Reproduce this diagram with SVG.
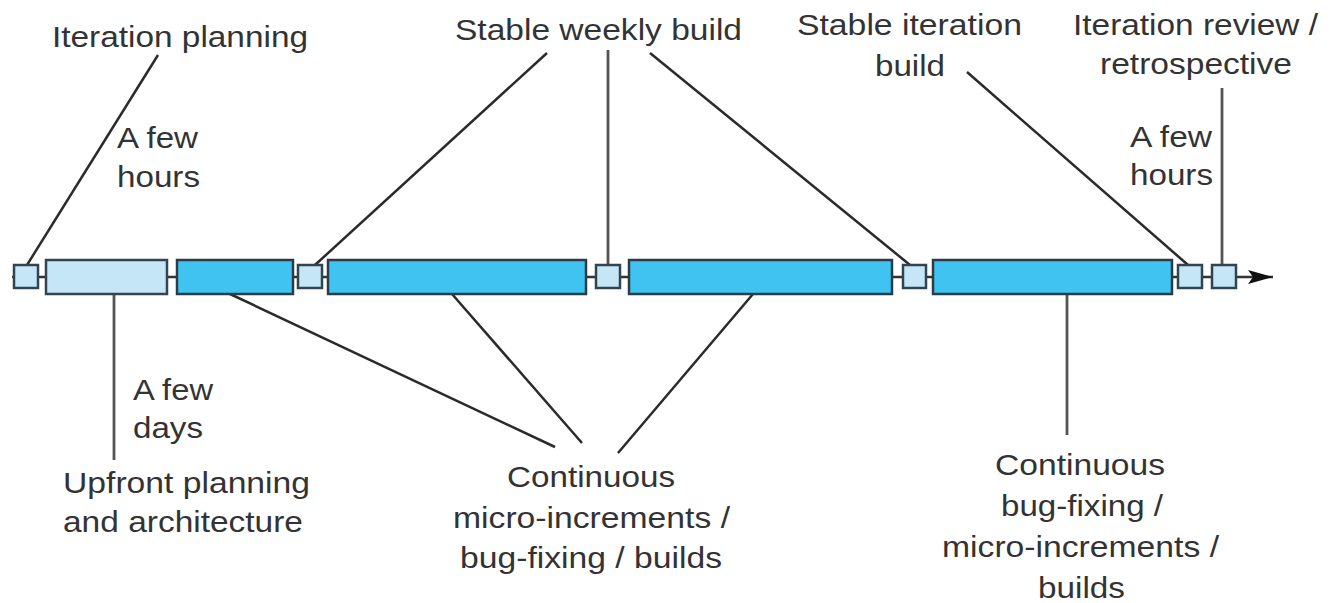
<svg xmlns="http://www.w3.org/2000/svg" width="1335" height="603" viewBox="0 0 1335 603">
<defs>
<style>
text{font-family:"Liberation Sans",Arial,sans-serif;font-size:30px;fill:#333;}
.sm{fill:#c4e6f7;stroke:#33444e;stroke-width:2.5;}
.lt{fill:#c4e6f7;stroke:#33444e;stroke-width:2.5;}
.bl{fill:#40c3f0;stroke:#2b3c47;stroke-width:2.5;}
.c{stroke:#2a2a2a;stroke-width:2.5;fill:none;}
.v{stroke:#555;stroke-width:2.8;fill:none;}
.tl{stroke:#333;stroke-width:2.5;fill:none;}
</style>
<marker id="arr" markerWidth="26" markerHeight="16" refX="25" refY="8" orient="auto" markerUnits="userSpaceOnUse">
<path d="M0,1 L25,8 L0,15 L5,8 Z" fill="#111"/>
</marker>
</defs>
<rect width="1335" height="603" fill="#fff"/>

<g id="timeline">
<line class="tl" x1="12" y1="277" x2="1273" y2="277" marker-end="url(#arr)"/>
</g>

<g id="connectors">
<line class="c" x1="158" y1="55" x2="27" y2="265"/>
<line class="c" x1="547" y1="53" x2="315" y2="265"/>
<line class="v" x1="608" y1="50" x2="608" y2="265"/>
<line class="c" x1="650" y1="53" x2="910" y2="265"/>
<line class="c" x1="967" y1="72" x2="1188" y2="265"/>
<line class="v" x1="1222" y1="88" x2="1222" y2="265"/>
<line class="v" x1="114" y1="294" x2="114" y2="460"/>
<line class="c" x1="230" y1="294" x2="555" y2="447"/>
<line class="c" x1="452" y1="294" x2="582" y2="443"/>
<line class="c" x1="753" y1="294" x2="618" y2="453"/>
<line class="v" x1="1067" y1="294" x2="1067" y2="435"/>
</g>

<g id="box-iteration-planning"><rect class="sm" x="14" y="265" width="24" height="23"/></g>
<g id="box-upfront"><rect class="lt" x="46" y="260" width="121" height="34"/></g>
<g id="box-micro-1"><rect class="bl" x="177" y="260" width="116" height="34"/></g>
<g id="box-weekly-1"><rect class="sm" x="298" y="265" width="24" height="23"/></g>
<g id="box-micro-2"><rect class="bl" x="328" y="260" width="258" height="34"/></g>
<g id="box-weekly-2"><rect class="sm" x="596" y="265" width="24" height="23"/></g>
<g id="box-micro-3"><rect class="bl" x="629" y="260" width="263" height="34"/></g>
<g id="box-weekly-3"><rect class="sm" x="903" y="265" width="23" height="23"/></g>
<g id="box-bugfix"><rect class="bl" x="933" y="260" width="239" height="34"/></g>
<g id="box-iteration-build"><rect class="sm" x="1178" y="265" width="24" height="23"/></g>
<g id="box-review"><rect class="sm" x="1212" y="265" width="24" height="23"/></g>

<g id="label-iteration-planning">
<text x="52" y="47" textLength="256" lengthAdjust="spacingAndGlyphs">Iteration planning</text>
<text x="117" y="148" textLength="81" lengthAdjust="spacingAndGlyphs">A few</text>
<text x="117" y="187" textLength="83" lengthAdjust="spacingAndGlyphs">hours</text>
</g>
<g id="label-stable-weekly">
<text x="455" y="40" textLength="287" lengthAdjust="spacingAndGlyphs">Stable weekly build</text>
</g>
<g id="label-stable-iteration">
<text x="797" y="35" textLength="225" lengthAdjust="spacingAndGlyphs">Stable iteration</text>
<text x="875" y="76" textLength="70" lengthAdjust="spacingAndGlyphs">build</text>
</g>
<g id="label-review">
<text x="1073" y="35" textLength="245" lengthAdjust="spacingAndGlyphs">Iteration review /</text>
<text x="1100" y="74" textLength="192" lengthAdjust="spacingAndGlyphs">retrospective</text>
<text x="1130" y="147" textLength="82" lengthAdjust="spacingAndGlyphs">A few</text>
<text x="1130" y="185" textLength="83" lengthAdjust="spacingAndGlyphs">hours</text>
</g>
<g id="label-upfront">
<text x="133" y="400" textLength="80" lengthAdjust="spacingAndGlyphs">A few</text>
<text x="133" y="438" textLength="70" lengthAdjust="spacingAndGlyphs">days</text>
<text x="63" y="493" textLength="247" lengthAdjust="spacingAndGlyphs">Upfront planning</text>
<text x="63" y="532" textLength="240" lengthAdjust="spacingAndGlyphs">and architecture</text>
</g>
<g id="label-micro">
<text x="507" y="487" textLength="168" lengthAdjust="spacingAndGlyphs">Continuous</text>
<text x="453" y="528" textLength="277" lengthAdjust="spacingAndGlyphs">micro-increments /</text>
<text x="460" y="568" textLength="262" lengthAdjust="spacingAndGlyphs">bug-fixing / builds</text>
</g>
<g id="label-bugfix">
<text x="995" y="475" textLength="170" lengthAdjust="spacingAndGlyphs">Continuous</text>
<text x="1001" y="516" textLength="162" lengthAdjust="spacingAndGlyphs">bug-fixing /</text>
<text x="942" y="557" textLength="277" lengthAdjust="spacingAndGlyphs">micro-increments /</text>
<text x="1038" y="598" textLength="87" lengthAdjust="spacingAndGlyphs">builds</text>
</g>
</svg>
